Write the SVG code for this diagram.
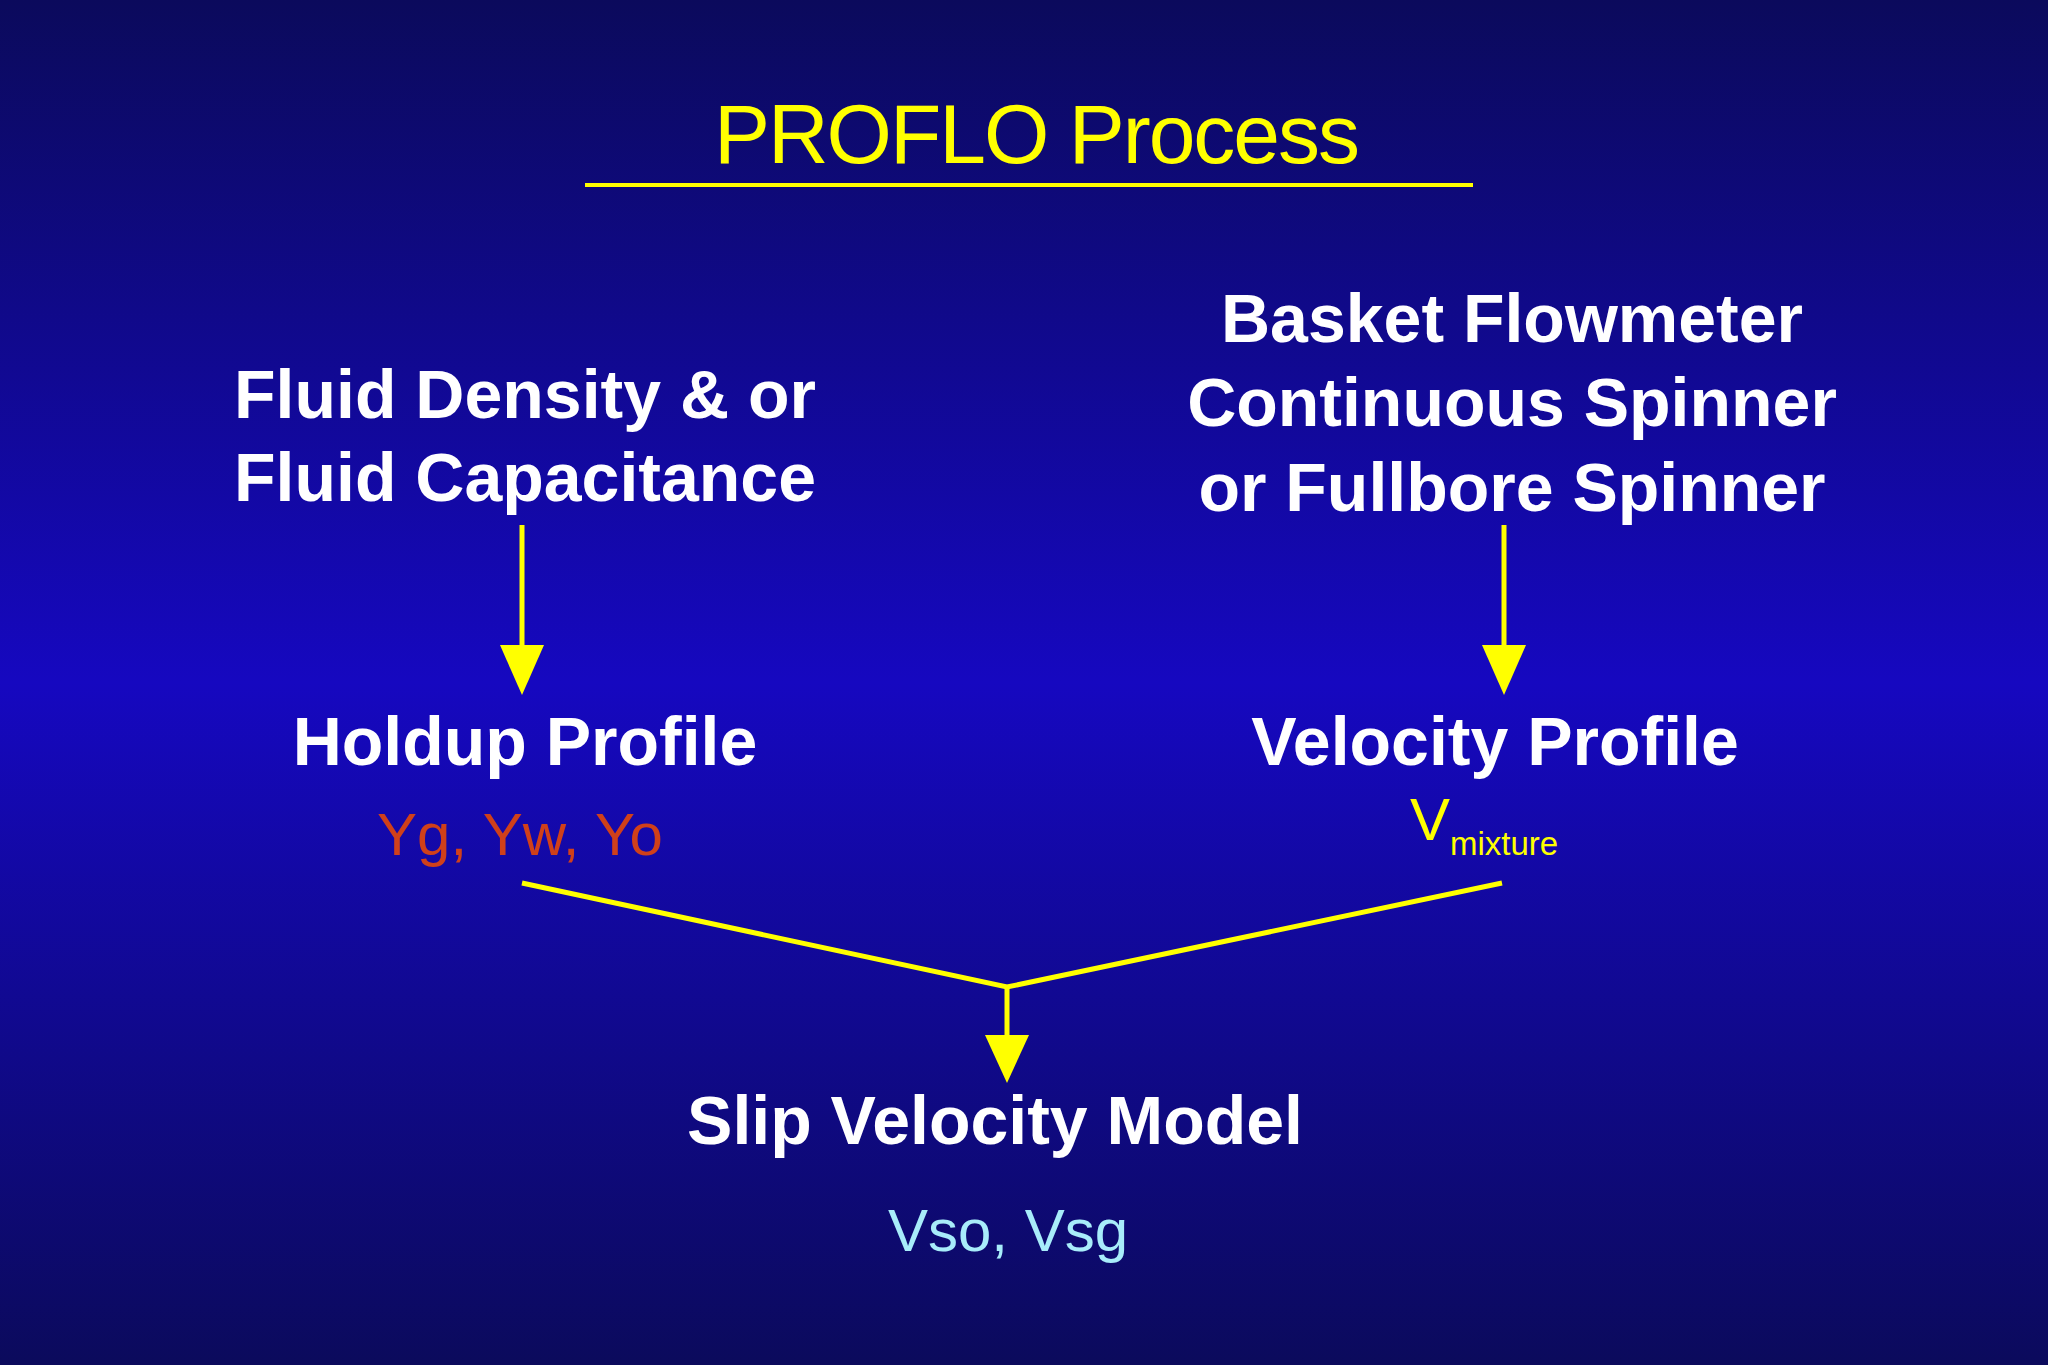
<svg xmlns="http://www.w3.org/2000/svg" width="2048" height="1365" viewBox="0 0 2048 1365">
<defs>
<linearGradient id="bg" x1="0" y1="0" x2="0" y2="1">
<stop offset="0" stop-color="#0b0a5c"/>
<stop offset="0.5" stop-color="#1608c0"/>
<stop offset="1" stop-color="#0b0a5c"/>
</linearGradient>
<marker id="ah" markerWidth="10" markerHeight="10" refX="5" refY="9" orient="auto" markerUnits="userSpaceOnUse" viewBox="0 0 10 10">
</marker>
<style>
.t{font-family:"Liberation Sans",Arial,sans-serif;font-weight:bold;fill:#fff;font-size:68px;text-anchor:middle}
.c{stroke:#ffff00;stroke-width:5;fill:none}
.h{fill:#ffff00}
</style>
</defs>
<rect width="2048" height="1365" fill="url(#bg)"/>
<g id="title">
<text x="1036" y="163" font-family="Futura,'Liberation Sans',sans-serif" font-size="84" fill="#ffff00" text-anchor="middle" letter-spacing="-2">PROFLO Process</text>
<line x1="585" y1="185" x2="1473" y2="185" stroke="#ffff00" stroke-width="4"/>
</g>
<g id="fluid"><text class="t" x="525" y="418">Fluid Density &amp; or</text><text class="t" x="525" y="501">Fluid Capacitance</text></g>
<g id="basket"><text class="t" x="1512" y="342">Basket Flowmeter</text><text class="t" x="1512" y="426">Continuous Spinner</text><text class="t" x="1512" y="511">or Fullbore Spinner</text></g>
<g id="holdup"><text class="t" x="525" y="765">Holdup Profile</text>
<text x="520" y="855" font-family="'Liberation Sans',sans-serif" font-size="60" fill="#d0401a" text-anchor="middle">Yg, Yw, Yo</text></g>
<g id="velocity"><text class="t" x="1495" y="765">Velocity Profile</text>
<text x="1410" y="840" font-family="'Liberation Sans',sans-serif" font-size="60" fill="#ffff00">V<tspan font-size="33" dy="15">mixture</tspan></text></g>
<g id="slip"><text class="t" x="995" y="1144">Slip Velocity Model</text>
<text x="1008" y="1251" font-family="'Liberation Sans',sans-serif" font-size="60" fill="#a8ecfa" text-anchor="middle">Vso, Vsg</text></g>
<g id="connectors">
<line class="c" x1="522" y1="525" x2="522" y2="655"/>
<polygon class="h" points="500,645 544,645 522,695"/>
<line class="c" x1="1504" y1="525" x2="1504" y2="655"/>
<polygon class="h" points="1482,645 1526,645 1504,695"/>
<polyline class="c" points="522,883 1007,987 1502,883"/>
<line class="c" x1="1007" y1="987" x2="1007" y2="1045"/>
<polygon class="h" points="985,1035 1029,1035 1007,1083"/>
</g>
</svg>
